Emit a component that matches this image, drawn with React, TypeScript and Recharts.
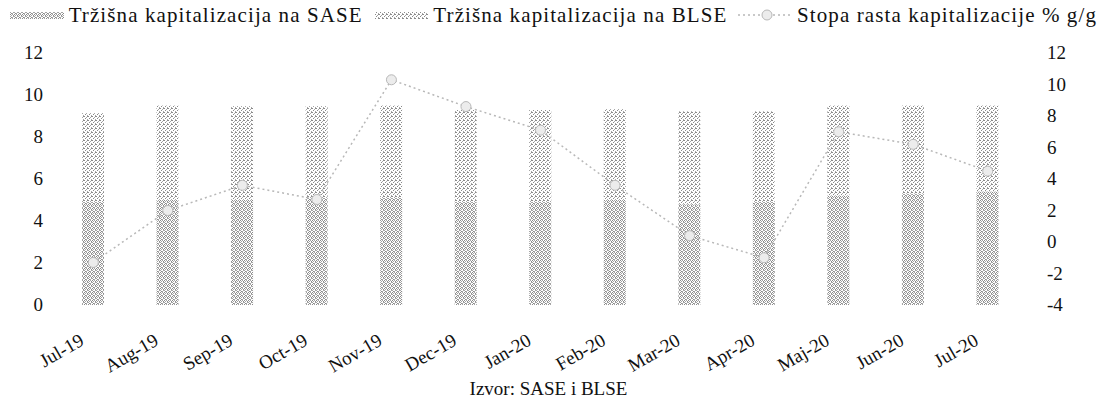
import React from 'react';
import { ComposedChart, Bar, Line, XAxis, YAxis } from 'recharts';

const months = ['Jul-19', 'Aug-19', 'Sep-19', 'Oct-19', 'Nov-19', 'Dec-19', 'Jan-20', 'Feb-20', 'Mar-20', 'Apr-20', 'Maj-20', 'Jun-20', 'Jul-20'];
const sase = [4.9, 5.0, 5.0, 5.1, 5.1, 4.9, 4.9, 5.0, 4.8, 4.9, 5.2, 5.3, 5.4];
const blse = [4.24, 4.5, 4.47, 4.37, 4.4, 4.38, 4.38, 4.33, 4.43, 4.33, 4.3, 4.2, 4.1];
const growth = [-1.3, 2.0, 3.6, 2.7, 10.3, 8.6, 7.1, 3.6, 0.4, -1.0, 7.0, 6.2, 4.5];
const leftTicks = [0, 2, 4, 6, 8, 10, 12];
const rightTicks = [-4, -2, 0, 2, 4, 6, 8, 10, 12];

const seriesNames = {
  sase: 'Tržišna kapitalizacija na SASE',
  blse: 'Tržišna kapitalizacija na BLSE',
  growth: 'Stopa rasta kapitalizacije % g/g',
};
const sourceText = 'Izvor: SASE i BLSE';

const data = months.map((m, i) => ({ month: m, sase: sase[i], blse: blse[i], growth: growth[i] }));

const FONT = "'Liberation Serif', 'Times New Roman', serif";
const LINE_COLOR = '#b8b8b8';

const saseDots = [[0, 0], [2, 0], [1, 1], [3, 1], [0, 2], [3, 2], [1, 3], [2, 3]];
const blseDots = [[0, 0], [2, 1], [1, 2], [3, 3], [3, 0]];

const Patterns = ({ prefix }: { prefix: string }) => (
  <defs>
    <pattern id={`${prefix}-sase`} width="4" height="4" patternUnits="userSpaceOnUse">
      <rect width="4" height="4" fill="#ffffff" />
      {saseDots.map(([px, py], i) => (
        <rect key={i} x={px} y={py} width="1" height="1" fill={i % 3 === 0 ? '#8a8a8a' : '#a4a4a4'} />
      ))}
    </pattern>
    <pattern id={`${prefix}-blse`} width="4" height="4" patternUnits="userSpaceOnUse">
      <rect width="4" height="4" fill="#ffffff" />
      {blseDots.map(([px, py], i) => (
        <rect key={i} x={px} y={py} width="1" height="1" fill={i % 2 === 0 ? '#8a8a8a' : '#a8a8a8'} />
      ))}
    </pattern>
  </defs>
);

const XTick = (props: any) => {
  const { x, y, payload } = props;
  return (
    <g transform={`translate(${x - 8},${y + 31}) rotate(-30)`}>
      <text x={0} y={0} textAnchor="end" fill="#111" fontSize={19} fontFamily={FONT}>
        {payload.value}
      </text>
    </g>
  );
};

const LeftTick = (props: any) => {
  const { x, y, payload } = props;
  return (
    <text x={x} y={y} dy={6} textAnchor="end" fill="#111" fontSize={19} fontFamily={FONT}>
      {payload.value}
    </text>
  );
};

const RightTick = (props: any) => {
  const { x, y, payload } = props;
  return (
    <text x={x} y={y} dy={6} textAnchor="start" fill="#111" fontSize={19} fontFamily={FONT}>
      {payload.value}
    </text>
  );
};

const LegendBox = () => (
  <div
    style={{
      position: 'absolute',
      left: 0,
      top: 2,
      width: 1097,
      height: 26,
      display: 'flex',
      alignItems: 'center',
      fontFamily: FONT,
      fontSize: 21,
      letterSpacing: 1.1,
      color: '#111',
      whiteSpace: 'nowrap',
    }}
  >
    <svg width={58} height={10} style={{ marginLeft: 10, marginRight: 5 }}>
      <Patterns prefix="lg" />
      <rect x={0} y={2} width={58} height={7} fill="url(#lg-sase)" />
    </svg>
    <span>{seriesNames.sase}</span>
    <svg width={58} height={10} style={{ marginLeft: 12, marginRight: 5 }}>
      <rect x={0} y={2} width={58} height={7} fill="url(#lg-blse)" />
    </svg>
    <span>{seriesNames.blse}</span>
    <svg width={58} height={16} style={{ marginLeft: 11, marginRight: 5 }}>
      <line x1={0} y1={8} x2={58} y2={8} stroke={LINE_COLOR} strokeWidth={1.5} strokeDasharray="2 3" />
      <circle cx={29} cy={8} r={5} stroke={LINE_COLOR} fill="#ececec" strokeWidth={1} />
    </svg>
    <span>{seriesNames.growth}</span>
  </div>
);

export default function App() {
  return (
    <div style={{ position: 'absolute', left: 0, top: 0, width: 1097, height: 408, background: '#fff', overflow: 'hidden' }}>
      <LegendBox />
      <ComposedChart
        width={1097}
        height={408}
        data={data}
        margin={{ top: 53, right: 0, bottom: 0, left: 0 }}
        barCategoryGap="70%"
      >
        <Patterns prefix="ch" />
        <XAxis
          dataKey="month"
          height={103}
          axisLine={false}
          tickLine={false}
          interval={0}
          tick={<XTick />}
        />
        <YAxis
          yAxisId="left"
          orientation="left"
          width={56}
          domain={[0, 12]}
          ticks={leftTicks}
          axisLine={false}
          tickLine={false}
          tickSize={0}
          tickMargin={13}
          tick={<LeftTick />}
        />
        <YAxis
          yAxisId="right"
          orientation="right"
          width={72}
          domain={[-4, 12]}
          ticks={rightTicks}
          axisLine={false}
          tickLine={false}
          tickSize={0}
          tickMargin={22}
          tick={<RightTick />}
        />
        <Bar yAxisId="left" dataKey="sase" name={seriesNames.sase} stackId="cap" fill="url(#ch-sase)" barSize={22} isAnimationActive={false} />
        <Bar yAxisId="left" dataKey="blse" name={seriesNames.blse} stackId="cap" fill="url(#ch-blse)" barSize={22} isAnimationActive={false} />
        <Line
          yAxisId="right"
          dataKey="growth"
          name={seriesNames.growth}
          type="linear"
          stroke={LINE_COLOR}
          strokeWidth={1.5}
          strokeDasharray="2 3"
          dot={{ r: 5, stroke: LINE_COLOR, fill: '#ececec', strokeWidth: 1, strokeDasharray: '' }}
          isAnimationActive={false}
        />
      </ComposedChart>
      <div
        style={{
          position: 'absolute',
          left: 0,
          top: 378,
          width: 1097,
          textAlign: 'center',
          fontFamily: FONT,
          fontSize: 19,
          color: '#111',
        }}
      >
        {sourceText}
      </div>
    </div>
  );
}
